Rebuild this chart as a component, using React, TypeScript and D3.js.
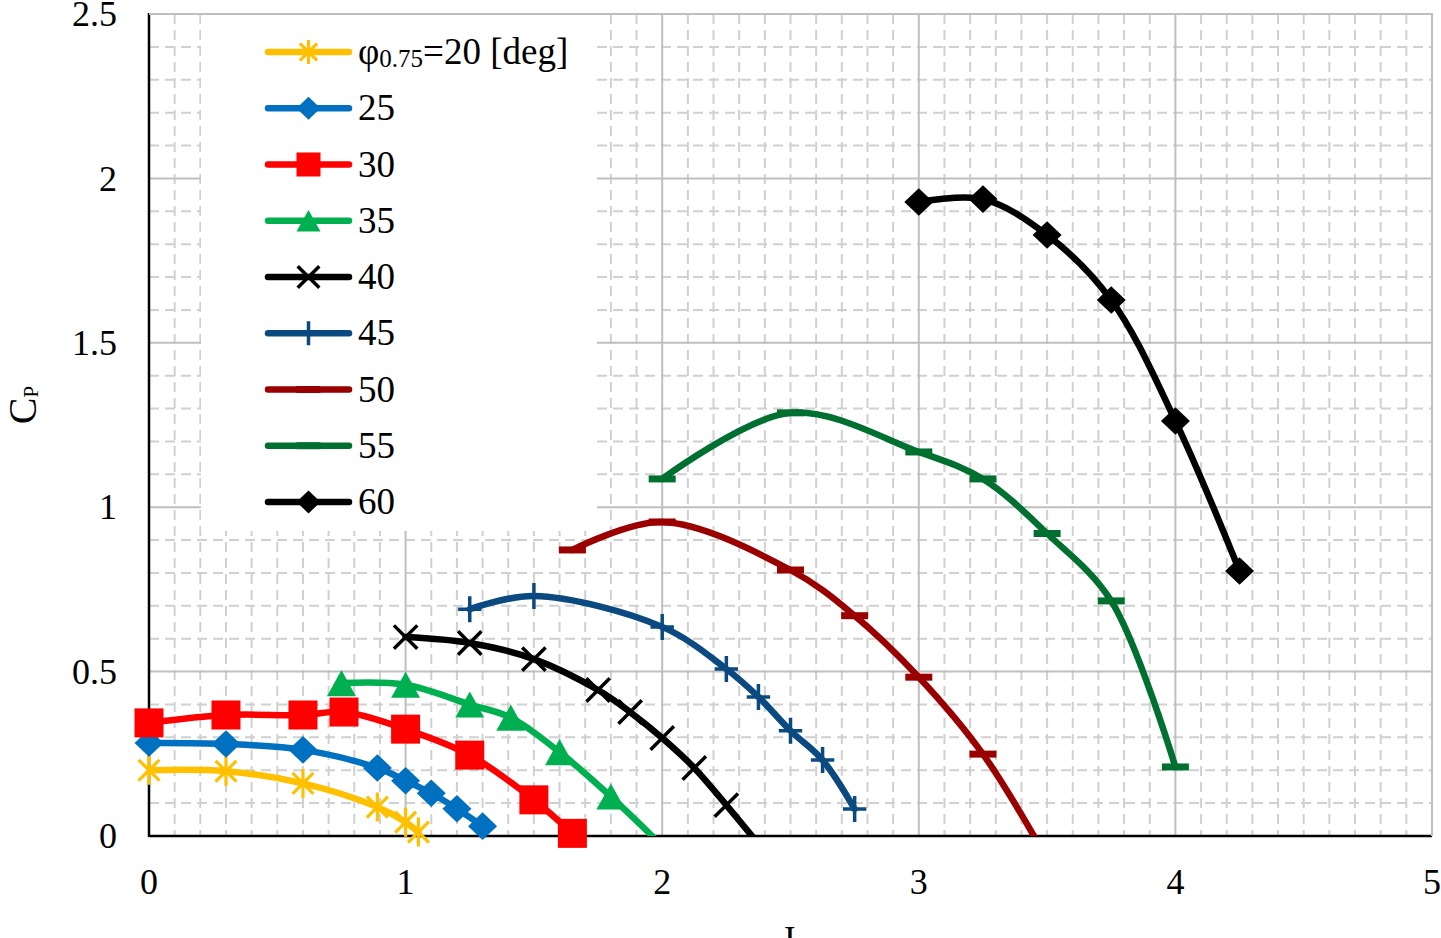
import React, { useEffect, useRef } from 'react'
import * as d3 from 'd3'

// advance ratio J and power coefficient Cp, one pair of arrays per pitch angle
const J20 = [0, 0.3, 0.6, 0.89, 1.0, 1.05]
const CP20 = [0.2, 0.197, 0.16, 0.088, 0.042, 0.012]

const J25 = [0, 0.3, 0.6, 0.89, 1.0, 1.1, 1.2, 1.3]
const CP25 = [0.283, 0.28, 0.262, 0.207, 0.168, 0.13, 0.083, 0.03]

const J30 = [0, 0.3, 0.6, 0.76, 1.0, 1.25, 1.5, 1.65]
const CP30 = [0.344, 0.368, 0.368, 0.377, 0.325, 0.246, 0.11, 0.008]

const J35 = [0.75, 1.0, 1.25, 1.41, 1.6, 1.8, 2.0]
const CP35 = [0.465, 0.46, 0.4, 0.36, 0.255, 0.12, -0.03]

const J40 = [1.0, 1.25, 1.5, 1.75, 1.875, 2.0, 2.125, 2.25, 2.375]
const CP40 = [0.605, 0.587, 0.538, 0.444, 0.377, 0.298, 0.207, 0.094, -0.024]

const J45 = [1.25, 1.5, 2.0, 2.25, 2.375, 2.5, 2.625, 2.75]
const CP45 = [0.69, 0.73, 0.636, 0.508, 0.423, 0.32, 0.231, 0.082]

const J50 = [1.65, 2.0, 2.5, 2.75, 3.0, 3.25, 3.5]
const CP50 = [0.87, 0.955, 0.809, 0.67, 0.483, 0.249, -0.07]

const J55 = [2.0, 2.5, 3.0, 3.25, 3.5, 3.75, 4.0]
const CP55 = [1.086, 1.287, 1.168, 1.086, 0.92, 0.715, 0.21]

const J60 = [3.0, 3.25, 3.5, 3.75, 4.0, 4.25]
const CP60 = [1.928, 1.937, 1.828, 1.63, 1.262, 0.806]

const PITCH_LABELS = ['20', '25', '30', '35', '40', '45', '50', '55', '60']
const COLORS = ['#FFC000', '#0070C0', '#FF0000', '#00B050', '#000000', '#0B4A80', '#9A0000', '#007030', '#000000']
const MARKERS = ['star', 'diamond', 'square', 'triangle', 'x', 'plus', 'dash', 'dash', 'diamond']

const J_TICKS = [0, 1, 2, 3, 4, 5]
const CP_TICKS = [0, 0.5, 1, 1.5, 2, 2.5]

const FONT = '"Liberation Serif", "Times New Roman", serif'

type Pt = { j: number; cp: number }

function drawMarker(
  g: d3.Selection<SVGGElement, unknown, null, undefined>,
  type: string,
  cx: number,
  cy: number,
  s: number,
  color: string
) {
  const h = s / 2
  if (type === 'star') {
    const a = h * 0.72
    g.append('path')
      .attr('d', `M${cx - a},${cy - a}L${cx + a},${cy + a}M${cx - a},${cy + a}L${cx + a},${cy - a}M${cx},${cy - h}L${cx},${cy + h}`)
      .attr('stroke', color)
      .attr('stroke-width', 3.2)
      .attr('fill', 'none')
  } else if (type === 'diamond') {
    const hv = h * 0.95
    g.append('path')
      .attr('d', `M${cx},${cy - hv}L${cx + h},${cy}L${cx},${cy + hv}L${cx - h},${cy}Z`)
      .attr('fill', color)
  } else if (type === 'square') {
    g.append('rect')
      .attr('x', cx - h)
      .attr('y', cy - h)
      .attr('width', s)
      .attr('height', s)
      .attr('fill', color)
  } else if (type === 'triangle') {
    const ht = s * 0.9
    g.append('path')
      .attr('d', `M${cx},${cy - ht / 2}L${cx + h},${cy + ht / 2}L${cx - h},${cy + ht / 2}Z`)
      .attr('fill', color)
  } else if (type === 'x') {
    const a = h * 0.9
    g.append('path')
      .attr('d', `M${cx - a},${cy - a}L${cx + a},${cy + a}M${cx - a},${cy + a}L${cx + a},${cy - a}`)
      .attr('stroke', color)
      .attr('stroke-width', 3.5)
      .attr('fill', 'none')
  } else if (type === 'plus') {
    g.append('path')
      .attr('d', `M${cx - h * 0.9},${cy}L${cx + h * 0.9},${cy}M${cx},${cy - h}L${cx},${cy + h}`)
      .attr('stroke', color)
      .attr('stroke-width', 3.5)
      .attr('fill', 'none')
  } else if (type === 'dash') {
    g.append('rect')
      .attr('x', cx - h)
      .attr('y', cy - 3.5)
      .attr('width', s)
      .attr('height', 7)
      .attr('fill', color)
  }
}

export default function App() {
  const svgRef = useRef<SVGSVGElement>(null)
  const width = 1441
  const height = 938

  useEffect(() => {
    if (!svgRef.current) return
    const svg = d3.select(svgRef.current)
    svg.selectAll('*').remove()

    const left = 149
    const right = 1432
    const top = 14
    const bottom = 836

    const x = d3.scaleLinear().domain([0, 5]).range([left, right])
    const y = d3.scaleLinear().domain([0, 2.5]).range([bottom, top])

    const series: { label: string; color: string; marker: string; pts: Pt[] }[] = [
      [J20, CP20], [J25, CP25], [J30, CP30], [J35, CP35], [J40, CP40],
      [J45, CP45], [J50, CP50], [J55, CP55], [J60, CP60]
    ].map(([js, cps], i) => ({
      label: PITCH_LABELS[i],
      color: COLORS[i],
      marker: MARKERS[i],
      pts: js.map((j, k) => ({ j, cp: cps[k] }))
    }))

    svg.append('rect').attr('width', width).attr('height', height).attr('fill', '#fff')

    const defs = svg.append('defs')
    defs.append('clipPath')
      .attr('id', 'plot-clip')
      .append('rect')
      .attr('x', left)
      .attr('y', top)
      .attr('width', right - left)
      .attr('height', bottom - top)

    // minor grid (every 0.1), dashed
    const minorX = d3.range(1, 50).filter(i => i % 10 !== 0).map(i => i / 10)
    const minorY = d3.range(1, 25).filter(i => i % 5 !== 0).map(i => i / 10)
    const grid = svg.append('g')
    grid.selectAll('line.mx')
      .data(minorX)
      .join('line')
      .attr('x1', d => x(d)).attr('x2', d => x(d))
      .attr('y1', top).attr('y2', bottom)
      .attr('stroke', '#d0d0d0').attr('stroke-width', 2)
      .attr('stroke-dasharray', '10 6')
    grid.selectAll('line.my')
      .data(minorY)
      .join('line')
      .attr('x1', left).attr('x2', right)
      .attr('y1', d => y(d)).attr('y2', d => y(d))
      .attr('stroke', '#d0d0d0').attr('stroke-width', 2)
      .attr('stroke-dasharray', '10 6')

    // major grid
    grid.append('g').selectAll('line')
      .data(J_TICKS.slice(1))
      .join('line')
      .attr('x1', d => x(d)).attr('x2', d => x(d))
      .attr('y1', top).attr('y2', bottom)
      .attr('stroke', '#bfbfbf').attr('stroke-width', 2)
    grid.append('g').selectAll('line')
      .data(CP_TICKS.slice(1))
      .join('line')
      .attr('x1', left).attr('x2', right)
      .attr('y1', d => y(d)).attr('y2', d => y(d))
      .attr('stroke', '#bfbfbf').attr('stroke-width', 2)

    // legend background hides the grid behind it
    const legX = 201
    const legY = 15
    svg.append('rect')
      .attr('x', legX).attr('y', legY)
      .attr('width', 396).attr('height', 516)
      .attr('fill', '#fff')

    // axes
    svg.append('line')
      .attr('x1', left).attr('x2', left).attr('y1', top - 1).attr('y2', bottom + 1)
      .attr('stroke', '#000').attr('stroke-width', 2.5)
    svg.append('line')
      .attr('x1', left).attr('x2', right).attr('y1', bottom).attr('y2', bottom)
      .attr('stroke', '#000').attr('stroke-width', 2.5)

    // tick labels
    svg.append('g').selectAll('text')
      .data(CP_TICKS)
      .join('text')
      .attr('x', 117)
      .attr('y', d => y(d))
      .attr('dy', '0.34em')
      .attr('text-anchor', 'end')
      .attr('font-family', FONT)
      .attr('font-size', 36)
      .text(d => String(d))
    svg.append('g').selectAll('text')
      .data(J_TICKS)
      .join('text')
      .attr('x', d => x(d))
      .attr('y', 894)
      .attr('text-anchor', 'middle')
      .attr('font-family', FONT)
      .attr('font-size', 36)
      .text(d => String(d))

    // axis titles
    svg.append('text')
      .attr('x', 788)
      .attr('y', 951)
      .attr('text-anchor', 'middle')
      .attr('font-family', FONT)
      .attr('font-size', 36)
      .text('J')
    const cpTitle = svg.append('text')
      .attr('transform', 'translate(36,405) rotate(-90)')
      .attr('text-anchor', 'middle')
      .attr('font-family', FONT)
    cpTitle.append('tspan').attr('font-size', 40).text('C')
    cpTitle.append('tspan').attr('font-size', 21).attr('dy', 2).text('P')

    // curves
    const line = d3.line<Pt>()
      .x(d => x(d.j))
      .y(d => y(d.cp))
      .curve(d3.curveCatmullRom.alpha(0.5))

    const lines = svg.append('g').attr('clip-path', 'url(#plot-clip)')
    series.forEach(s => {
      lines.append('path')
        .attr('d', line(s.pts))
        .attr('fill', 'none')
        .attr('stroke', s.color)
        .attr('stroke-width', 6.5)
        .attr('stroke-linecap', 'round')
        .attr('stroke-linejoin', 'round')
    })

    const marks = svg.append('g')
    series.forEach(s => {
      s.pts.filter(p => p.cp >= 0).forEach(p => {
        const size = s.marker === 'plus' || s.marker === 'x' ? 26 : s.marker === 'dash' ? 27 : 29
        drawMarker(marks, s.marker, x(p.j), y(p.cp), size, s.color)
      })
    })

    // legend entries
    const leg = svg.append('g')
    series.forEach((s, i) => {
      const cy = 52 + i * 56.25
      leg.append('line')
        .attr('x1', 268).attr('x2', 349)
        .attr('y1', cy).attr('y2', cy)
        .attr('stroke', s.color)
        .attr('stroke-width', 6.5)
        .attr('stroke-linecap', 'round')
      drawMarker(leg, s.marker, 308.5, cy, 24, s.color)
      const t = leg.append('text')
        .attr('x', 358)
        .attr('y', cy)
        .attr('dy', '0.33em')
        .attr('font-family', FONT)
        .attr('font-size', 37)
      if (i === 0) {
        t.append('tspan').text('φ')
        t.append('tspan').attr('font-size', 25).attr('dy', 3).text('0.75')
        t.append('tspan').attr('dy', -3).text(`=${s.label} [deg]`)
      } else {
        t.text(s.label)
      }
    })

    // plot border (top/right)
    svg.append('path')
      .attr('d', `M${left},${top}L${right},${top}L${right},${bottom}`)
      .attr('fill', 'none')
      .attr('stroke', '#bfbfbf')
      .attr('stroke-width', 2)
  }, [])

  return (
    <div style={{ position: 'absolute', left: 0, top: 0 }}>
      <svg ref={svgRef} width={width} height={height} style={{ display: 'block' }} />
    </div>
  )
}
